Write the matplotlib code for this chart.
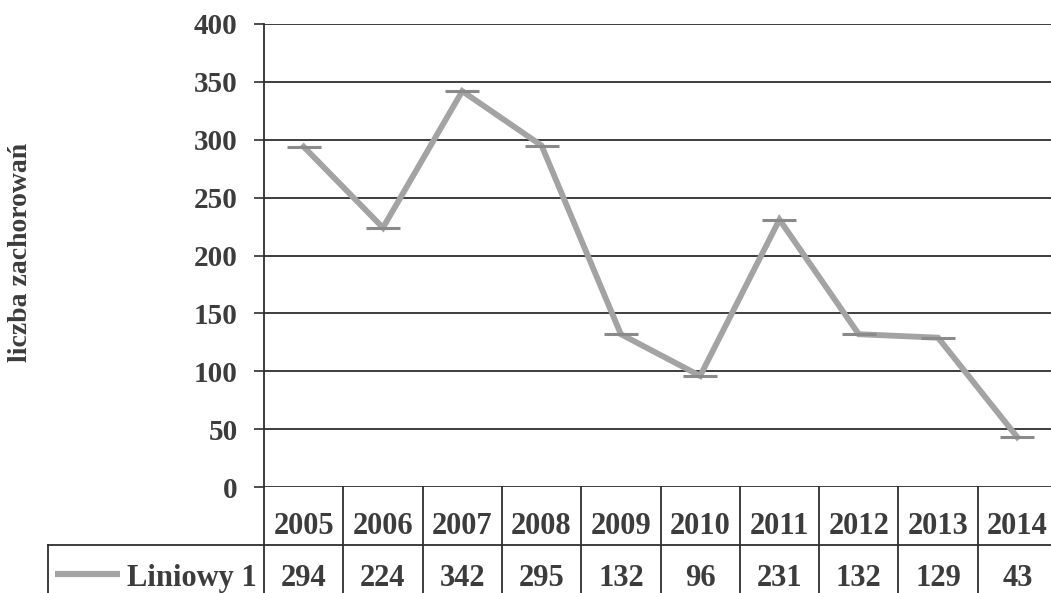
import matplotlib
matplotlib.use("Agg")
import matplotlib.pyplot as plt
import numpy as np

years = ["2005", "2006", "2007", "2008", "2009", "2010", "2011", "2012", "2013", "2014"]
values = [294, 224, 342, 295, 132, 96, 231, 132, 129, 43]
series_name = "Liniowy 1"
y_label = "liczba zachorowań"
y_ticks = [0, 50, 100, 150, 200, 250, 300, 350, 400]

plt.rcParams['font.family'] = ['Liberation Serif', 'DejaVu Serif']
plt.rcParams['font.weight'] = 'bold'

TXT = '#3c3c3c'
GRID = '#2e2e2e'
W, H = 1051, 593
fig = plt.figure(figsize=(W / 100, H / 100), dpi=100)
fig.patch.set_facecolor('white')

left_px, right_px, top_px, zero_px = 264, 1057, 24, 487
ax = fig.add_axes([left_px / W, (H - zero_px) / H, (right_px - left_px) / W, (zero_px - top_px) / H])
ax.set_xlim(-0.5, len(years) - 0.5)
ax.set_ylim(0, 400)

x = np.arange(len(years))
ax.plot(x, values, color='#a3a3a3', lw=4.2, solid_joinstyle='miter', zorder=3)
ax.plot(x, values, ls='none', marker='_', ms=24, mew=2.2, color='#8a8a8a', zorder=4)

ax.set_yticks(y_ticks)
ax.set_yticklabels([str(v) for v in y_ticks], fontsize=21, fontweight='bold', color=TXT)
ax.tick_params(axis='y', length=7, width=1.2, color=GRID, pad=12)
ax.set_xticks([])
ax.grid(axis='y', color=GRID, lw=1.3)
ax.set_axisbelow(True)
for s in ['top', 'right', 'bottom']:
    ax.spines[s].set_visible(False)
ax.spines['left'].set_color(GRID)
ax.spines['left'].set_linewidth(1.3)

ax.set_ylabel(y_label, fontsize=20, fontweight='bold', color=TXT, labelpad=0)
ax.yaxis.set_label_coords((33 - left_px) / (right_px - left_px), (zero_px - 252) / (zero_px - top_px))

# data table below the axis
px2y = 400 / (zero_px - top_px)
col_w = (right_px - left_px) / len(years)
def dx(px):
    return -0.5 + (px - left_px) / col_w
def dy(py):
    return (zero_px - py) * px2y

row1_bot = dy(545)
fig_bot = dy(H + 5)
lkw = dict(color=GRID, lw=1.3, clip_on=False, zorder=2)
# y-axis extension
ax.plot([-0.5, -0.5], [0, fig_bot], **lkw)
# header-row bottom line / value row top
ax.plot([dx(48), len(years) - 0.5], [row1_bot, row1_bot], **lkw)
ax.plot([dx(48), dx(48)], [row1_bot, fig_bot], **lkw)
for i in range(1, len(years) + 1):
    ax.plot([i - 0.5, i - 0.5], [0, fig_bot], **lkw)

for i, yr in enumerate(years):
    ax.text(i, dy(534), yr, ha='center', va='baseline', fontsize=22, fontweight='bold', color=TXT, clip_on=False)
for i, v in enumerate(values):
    ax.text(i, dy(586), str(v), ha='center', va='baseline', fontsize=22, fontweight='bold', color=TXT, clip_on=False)

ax.plot([dx(55), dx(120)], [dy(574), dy(574)], color='#a3a3a3', lw=4.5, clip_on=False, solid_capstyle='butt')
ax.text(dx(127), dy(586), series_name, ha='left', va='baseline', fontsize=22, fontweight='bold', color=TXT, clip_on=False)

fig.savefig('out.png', dpi=100, facecolor='white')
